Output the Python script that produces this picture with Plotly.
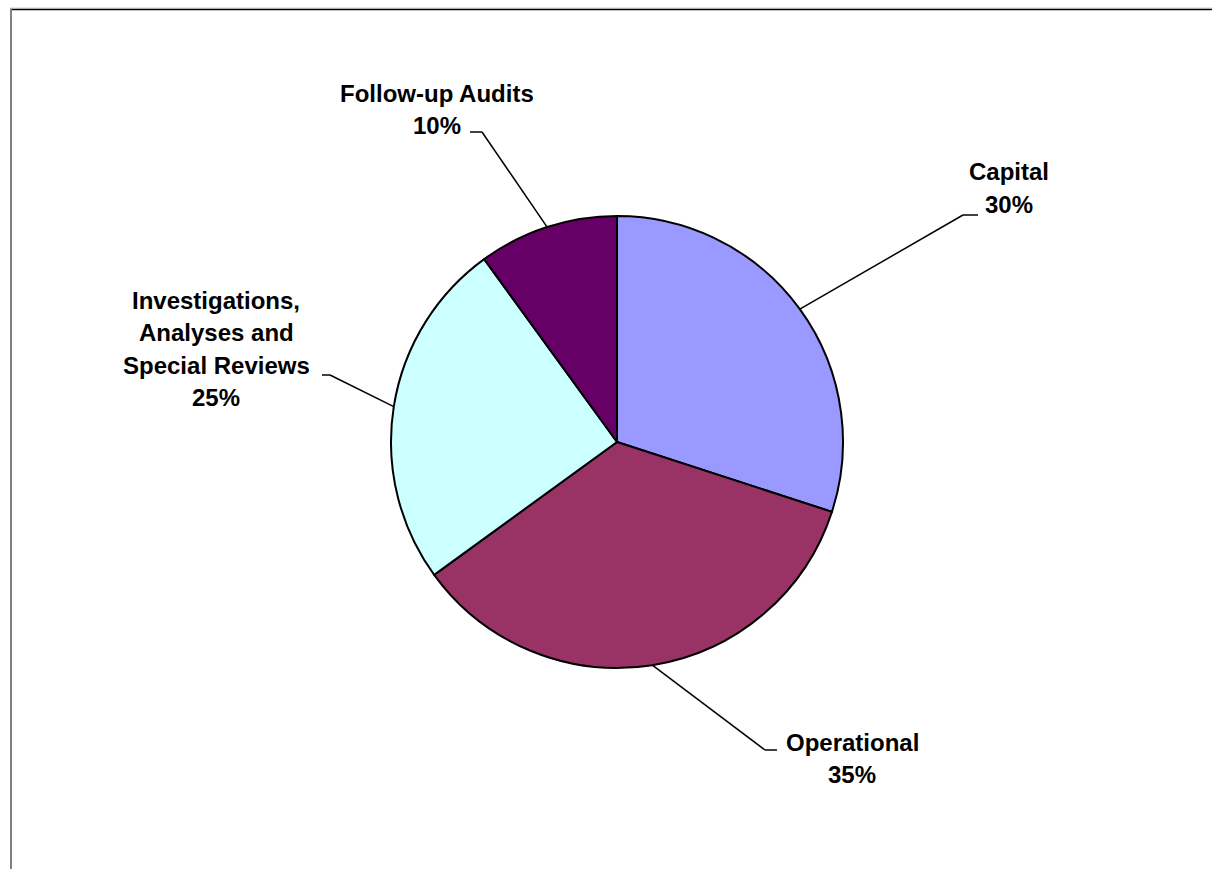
import math
import plotly.graph_objects as go

labels = ["Capital", "Operational", "Investigations, Analyses and Special Reviews", "Follow-up Audits"]
values = [30, 35, 25, 10]
colors = ["#9999FF", "#993366", "#CCFFFF", "#660066"]
label_lines = [["Capital"], ["Operational"], ["Investigations,", "Analyses and", "Special Reviews"], ["Follow-up Audits"]]

W, H = 1212, 869
CX, CY, R = 617, 442, 226

def px(x):
    return x / W

def py(y):
    return 1 - y / H

# layout positions for labels (page pixels): text centre x, first-line centre y, elbow, leader end
label_pos = [
    dict(x=1009, y=172, elbow=(963, 215), end=(978, 215)),
    dict(x=852, y=742, elbow=(765, 750), end=(777, 750)),
    dict(x=216, y=300, elbow=(330, 375), end=(322, 375)),
    dict(x=437, y=93, elbow=(482, 132), end=(470, 132)),
]
LINE_GAP = 32.5

fig = go.Figure(go.Pie(
    labels=labels, values=values, sort=False, direction="clockwise", rotation=0,
    marker=dict(colors=colors, line=dict(color="black", width=2)),
    textinfo="none", hoverinfo="label+percent", showlegend=False,
    domain=dict(x=[px(CX - R), px(CX + R)], y=[py(CY + R), py(CY - R)]),
))

shapes = []
annotations = []
total = sum(values)
cum = 0
font = dict(family="Liberation Sans, Arial, sans-serif", size=24, color="black")
for i, v in enumerate(values):
    mid = (cum + v / 2) / total * 2 * math.pi
    cum += v
    rx = CX + R * math.sin(mid)
    ry = CY - R * math.cos(mid)
    p = label_pos[i]
    ex, ey = p["elbow"]
    tx, ty = p["end"]
    shapes.append(dict(type="line", xref="paper", yref="paper", x0=px(rx), y0=py(ry), x1=px(ex), y1=py(ey),
                       line=dict(color="black", width=1.5)))
    shapes.append(dict(type="line", xref="paper", yref="paper", x0=px(ex), y0=py(ey), x1=px(tx), y1=py(ty),
                       line=dict(color="black", width=1.5)))
    lines = label_lines[i] + [f"{round(v / total * 100)}%"]
    for j, t in enumerate(lines):
        annotations.append(dict(text=f"<b>{t}</b>", xref="paper", yref="paper", x=px(p["x"]),
                                y=py(p["y"] + j * LINE_GAP), xanchor="center", yanchor="middle",
                                showarrow=False, font=font))

# chart frame
shapes.append(dict(type="line", xref="paper", yref="paper", x0=px(10), y0=py(8), x1=1, y1=py(8),
                   line=dict(color="#d0d0d0", width=1)))
shapes.append(dict(type="line", xref="paper", yref="paper", x0=px(10), y0=py(9.5), x1=1, y1=py(9.5),
                   line=dict(color="black", width=1.5)))
shapes.append(dict(type="line", xref="paper", yref="paper", x0=px(11), y0=py(9), x1=px(11), y1=0,
                   line=dict(color="#808080", width=2)))

fig.update_layout(width=W, height=H, margin=dict(l=0, r=0, t=0, b=0),
                  paper_bgcolor="white", plot_bgcolor="white",
                  shapes=shapes, annotations=annotations)
fig.write_html("out.html", config={"displayModeBar": False},
               post_script="document.body.style.margin='0';document.body.style.overflow='hidden';")
